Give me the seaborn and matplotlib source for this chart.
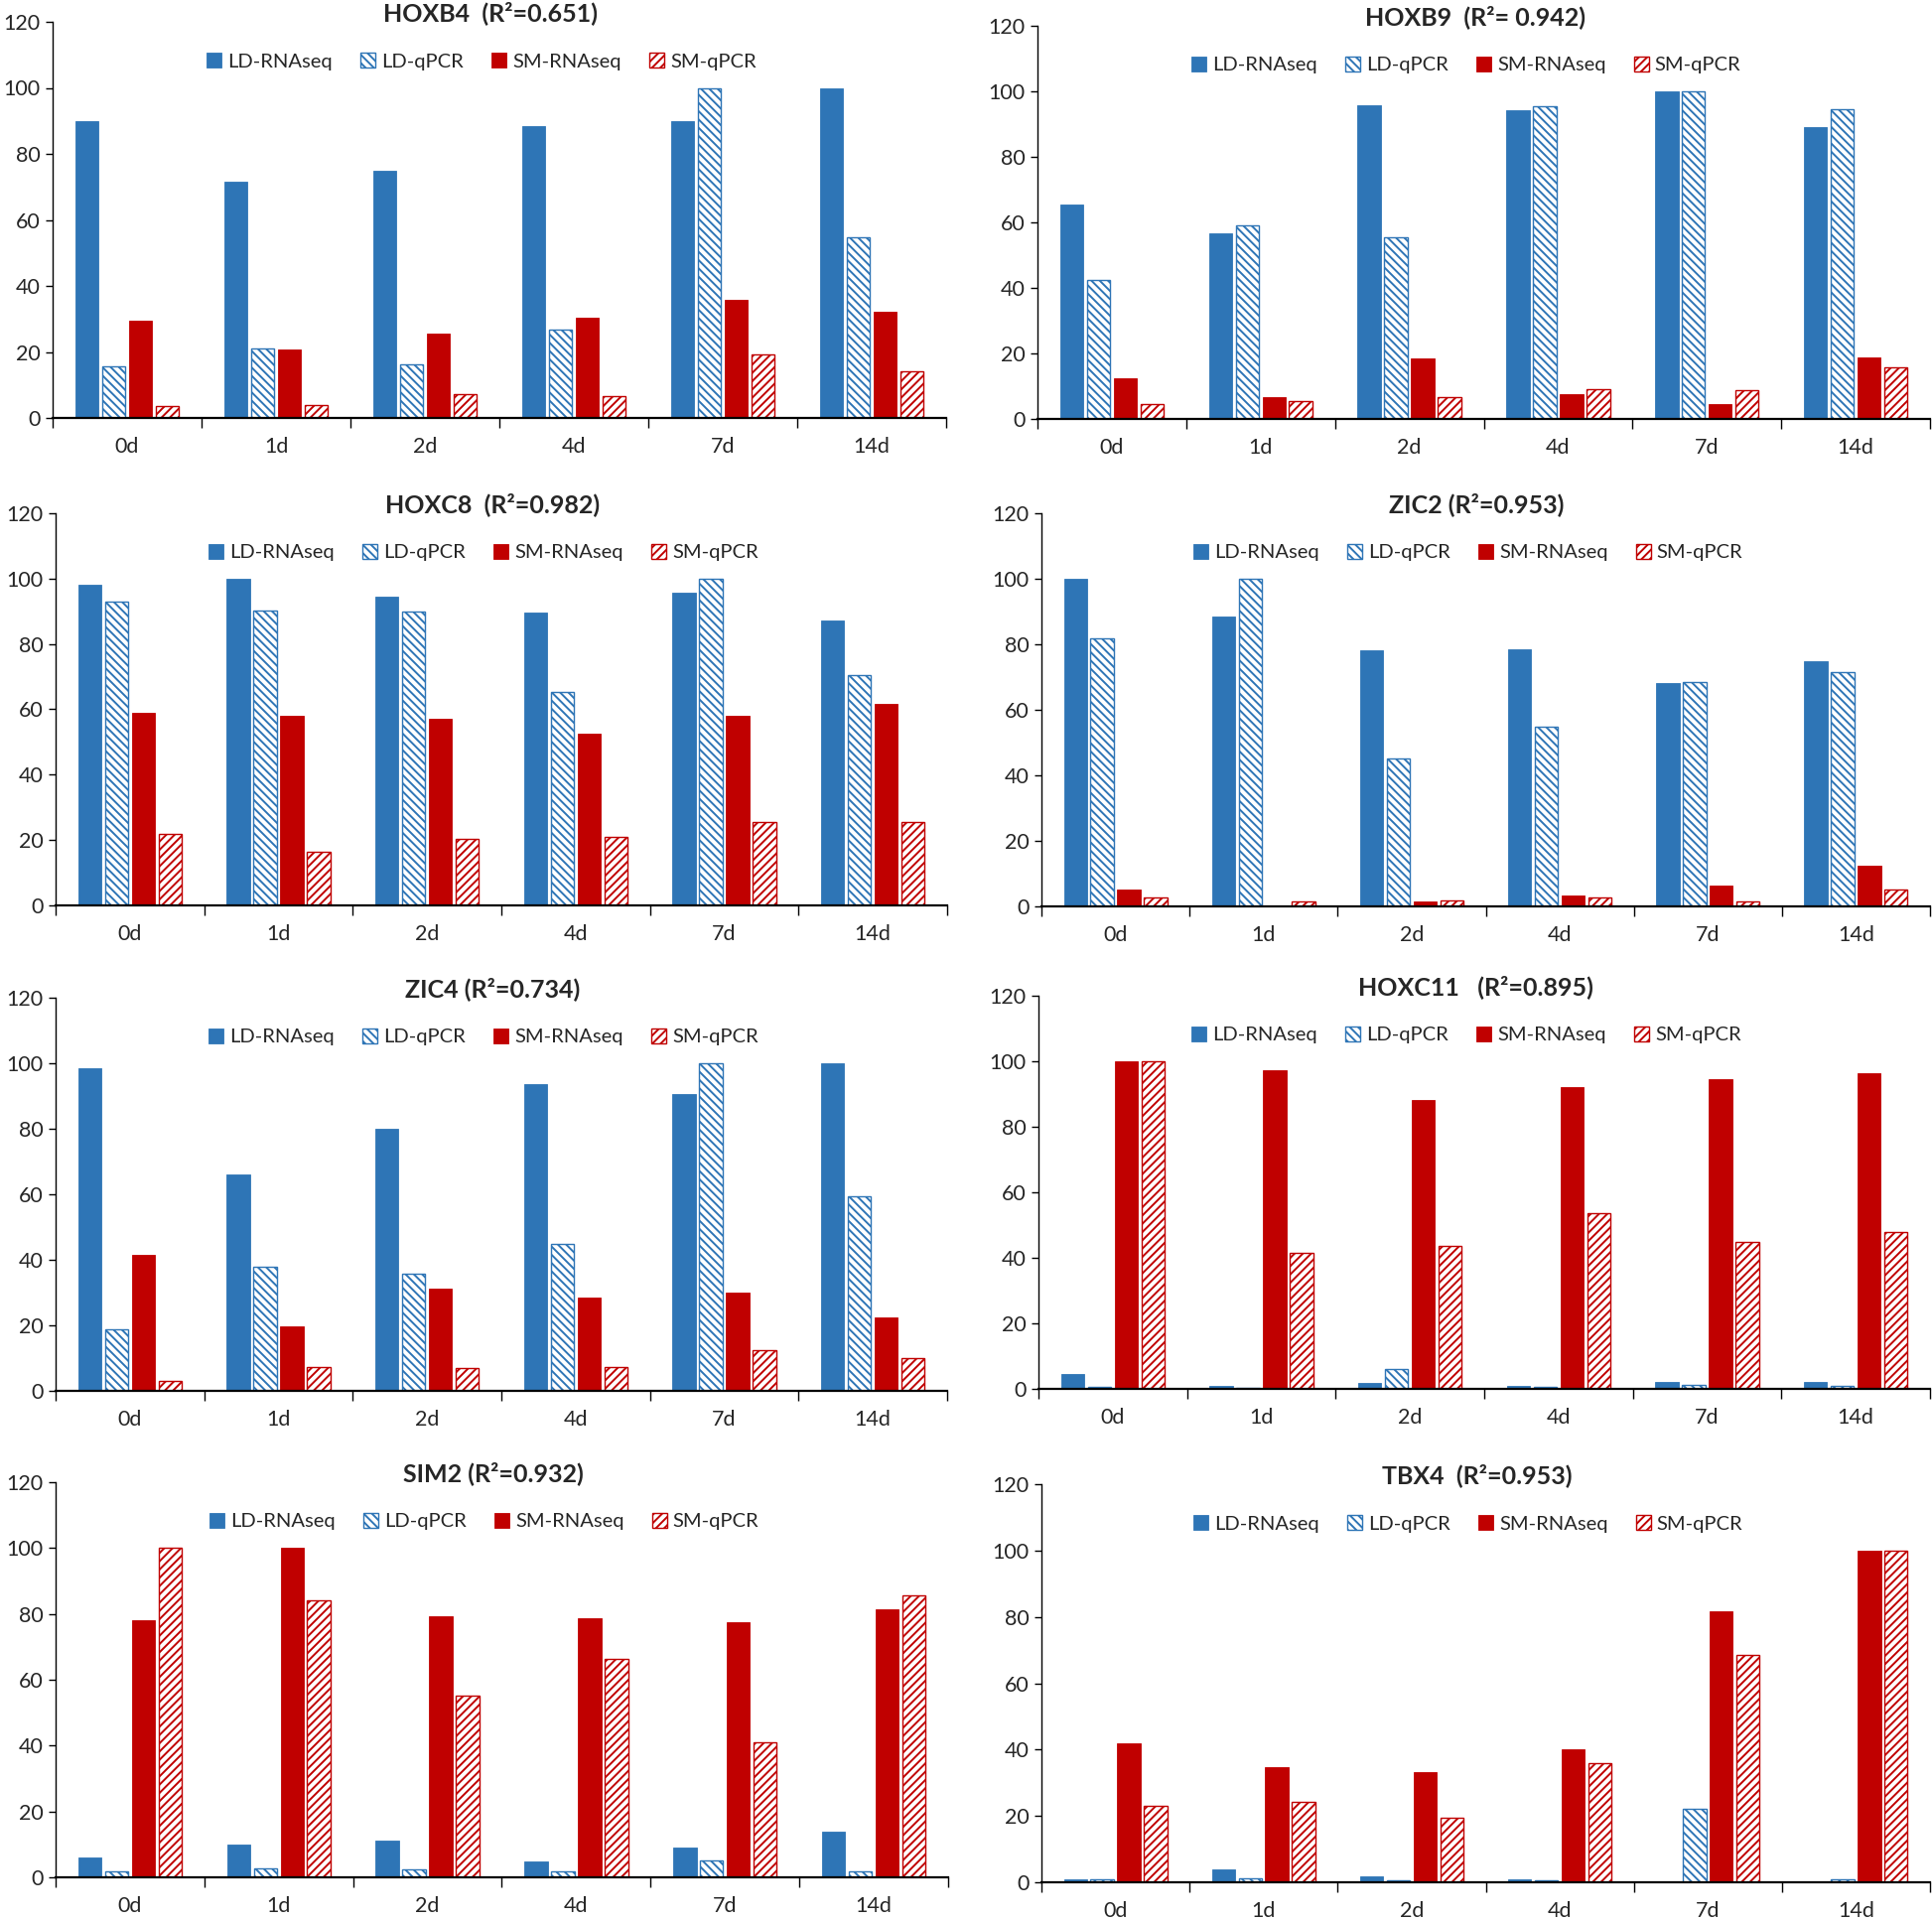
import numpy as np
import pandas as pd
import matplotlib
matplotlib.use("Agg")
import matplotlib.pyplot as plt
from matplotlib.patches import Patch
from matplotlib.ticker import FixedLocator
import seaborn as sns

# ---------------- data ----------------
days = ["0d", "1d", "2d", "4d", "7d", "14d"]
series = ["LD-RNAseq", "LD-qPCR", "SM-RNAseq", "SM-qPCR"]

titles = ["HOXB4  (R\u00b2=0.651)", "HOXB9  (R\u00b2= 0.942)",
          "HOXC8  (R\u00b2=0.982)", "ZIC2 (R\u00b2=0.953)",
          "ZIC4 (R\u00b2=0.734)", "HOXC11   (R\u00b2=0.895)",
          "SIM2 (R\u00b2=0.932)", "TBX4  (R\u00b2=0.953)"]

HOXB4_LD_RNASEQ = [90.0, 71.7, 75.0, 88.5, 90.0, 100.0]
HOXB4_LD_QPCR = [15.7, 21.2, 16.3, 26.7, 100.0, 54.6]
HOXB4_SM_RNASEQ = [29.6, 20.7, 25.5, 30.3, 35.9, 32.2]
HOXB4_SM_QPCR = [3.5, 4.0, 7.3, 6.7, 19.1, 14.0]

HOXB9_LD_RNASEQ = [65.6, 56.8, 95.7, 94.1, 100.0, 89.0]
HOXB9_LD_QPCR = [42.4, 59.1, 55.6, 95.6, 100.0, 94.5]
HOXB9_SM_RNASEQ = [12.4, 6.6, 18.5, 7.6, 4.6, 18.8]
HOXB9_SM_QPCR = [4.6, 5.6, 6.8, 9.0, 8.7, 15.8]

HOXC8_LD_RNASEQ = [98.1, 100.0, 94.6, 89.5, 95.7, 87.3]
HOXC8_LD_QPCR = [93.1, 90.3, 90.0, 65.2, 100.0, 70.5]
HOXC8_SM_RNASEQ = [58.9, 57.9, 57.1, 52.7, 57.9, 61.7]
HOXC8_SM_QPCR = [22.0, 16.5, 20.4, 21.1, 25.6, 25.4]

ZIC2_LD_RNASEQ = [100.0, 88.5, 78.2, 78.6, 68.3, 74.7]
ZIC2_LD_QPCR = [81.8, 100.0, 45.1, 54.7, 68.6, 71.6]
ZIC2_SM_RNASEQ = [5.2, 0.0, 1.5, 3.4, 6.4, 12.5]
ZIC2_SM_QPCR = [2.8, 1.6, 1.8, 2.8, 1.6, 5.3]

ZIC4_LD_RNASEQ = [98.5, 66.1, 80.0, 93.6, 90.5, 100.0]
ZIC4_LD_QPCR = [18.7, 37.9, 35.7, 45.0, 100.0, 59.4]
ZIC4_SM_RNASEQ = [41.5, 19.7, 31.2, 28.6, 30.0, 22.3]
ZIC4_SM_QPCR = [2.9, 7.3, 6.9, 7.3, 12.4, 9.9]

HOXC11_LD_RNASEQ = [4.5, 0.8, 1.8, 0.9, 2.0, 2.1]
HOXC11_LD_QPCR = [0.6, 0.3, 6.1, 0.6, 1.2, 0.8]
HOXC11_SM_RNASEQ = [100.0, 97.2, 88.2, 92.0, 94.4, 96.3]
HOXC11_SM_QPCR = [100.0, 41.6, 43.7, 53.6, 44.9, 47.9]

SIM2_LD_RNASEQ = [6.1, 10.0, 11.2, 4.9, 9.0, 13.9]
SIM2_LD_QPCR = [1.7, 2.8, 2.5, 1.9, 5.1, 1.9]
SIM2_SM_RNASEQ = [78.1, 100.0, 79.2, 78.7, 77.4, 81.3]
SIM2_SM_QPCR = [100.0, 84.2, 55.1, 66.4, 41.1, 85.7]

TBX4_LD_RNASEQ = [0.9, 3.8, 1.7, 0.8, 0.0, 0.0]
TBX4_LD_QPCR = [0.8, 1.1, 0.6, 0.7, 22.0, 1.0]
TBX4_SM_RNASEQ = [41.9, 34.6, 33.2, 40.0, 81.8, 100.0]
TBX4_SM_QPCR = [22.9, 24.1, 19.4, 35.9, 68.5, 100.0]

panel_values = [
    [HOXB4_LD_RNASEQ, HOXB4_LD_QPCR, HOXB4_SM_RNASEQ, HOXB4_SM_QPCR],
    [HOXB9_LD_RNASEQ, HOXB9_LD_QPCR, HOXB9_SM_RNASEQ, HOXB9_SM_QPCR],
    [HOXC8_LD_RNASEQ, HOXC8_LD_QPCR, HOXC8_SM_RNASEQ, HOXC8_SM_QPCR],
    [ZIC2_LD_RNASEQ, ZIC2_LD_QPCR, ZIC2_SM_RNASEQ, ZIC2_SM_QPCR],
    [ZIC4_LD_RNASEQ, ZIC4_LD_QPCR, ZIC4_SM_RNASEQ, ZIC4_SM_QPCR],
    [HOXC11_LD_RNASEQ, HOXC11_LD_QPCR, HOXC11_SM_RNASEQ, HOXC11_SM_QPCR],
    [SIM2_LD_RNASEQ, SIM2_LD_QPCR, SIM2_SM_RNASEQ, SIM2_SM_QPCR],
    [TBX4_LD_RNASEQ, TBX4_LD_QPCR, TBX4_SM_RNASEQ, TBX4_SM_QPCR],
]

# ---------------- style ----------------
BLUE = "#2E75B6"
RED = "#C00000"
colors = [BLUE, BLUE, RED, RED]
hatches = [None, "\\\\\\\\", None, "////"]

sns.set_style("white")
plt.rcParams["font.family"] = ["Lato", "DejaVu Sans"]
plt.rcParams["hatch.linewidth"] = 1.4

W, H = 1946, 1934
fig = plt.figure(figsize=(W / 100, H / 100), dpi=100)

# axes rectangles in pixels: left, top, right, bottom
rects = [
    (53, 22, 953, 421), (1045, 26, 1944, 422),
    (56, 517, 954, 912), (1049, 517, 1944, 913),
    (56, 1005, 954, 1401), (1046, 1003, 1944, 1399),
    (56, 1493, 955, 1891), (1049, 1495, 1944, 1896),
]

for vals, title, r in zip(panel_values, titles, rects):
    l, t, rr, b = r
    ax = fig.add_axes([l / W, 1 - b / H, (rr - l) / W, (b - t) / H])
    df = pd.DataFrame({
        "day": [d for s in series for d in days],
        "series": [s for s in series for _ in days],
        "value": [v for vs in vals for v in vs],
    })
    sns.barplot(data=df, x="day", y="value", hue="series", order=days,
                hue_order=series, palette=colors, saturation=1,
                width=0.72, gap=0.13, errorbar=None, legend=False, ax=ax)
    for cont, c, h in zip(ax.containers, colors, hatches):
        for p in cont.patches:
            if h:
                p.set_facecolor("white")
                p.set_edgecolor(c)
                p.set_hatch(h)
                p.set_linewidth(1.0)
            else:
                p.set_facecolor(c)
                p.set_edgecolor(c)
                p.set_linewidth(0.6)

    ax.set_xlim(-0.5, 5.5)
    ax.set_ylim(0, 120)
    ax.set_yticks(range(0, 121, 20))
    ax.set_xlabel("")
    ax.set_ylabel("")
    for s in ["top", "right"]:
        ax.spines[s].set_visible(False)
    ax.spines["left"].set_color("black")
    ax.spines["left"].set_linewidth(1.0)
    ax.spines["bottom"].set_color("black")
    ax.spines["bottom"].set_linewidth(1.6)
    ax.xaxis.set_minor_locator(FixedLocator(np.arange(-0.5, 6.0, 1.0)))
    ax.tick_params(axis="x", which="major", length=0, pad=14, labelsize=15.5)
    ax.tick_params(axis="x", which="minor", length=7, width=1.0, color="black",
                   direction="out", bottom=True)
    ax.tick_params(axis="y", which="major", length=5, width=1.0, color="black",
                   direction="out", left=True, pad=4, labelsize=15.5)
    ax.set_title(title, fontsize=18, fontweight="bold", pad=1, x=0.49)

    handles = []
    for s, c, h in zip(series, colors, hatches):
        if h:
            handles.append(Patch(facecolor="white", edgecolor=c, hatch=h,
                                 linewidth=1.0, label=s))
        else:
            handles.append(Patch(facecolor=c, edgecolor=c, linewidth=0.6, label=s))
    ax.legend(handles=handles, loc="center", bbox_to_anchor=(0.48, 0.90),
              ncol=4, frameon=False, fontsize=14.5, handlelength=0.75,
              handleheight=0.75, handletextpad=0.3, columnspacing=1.4)

fig.savefig("out.png", dpi=100)
